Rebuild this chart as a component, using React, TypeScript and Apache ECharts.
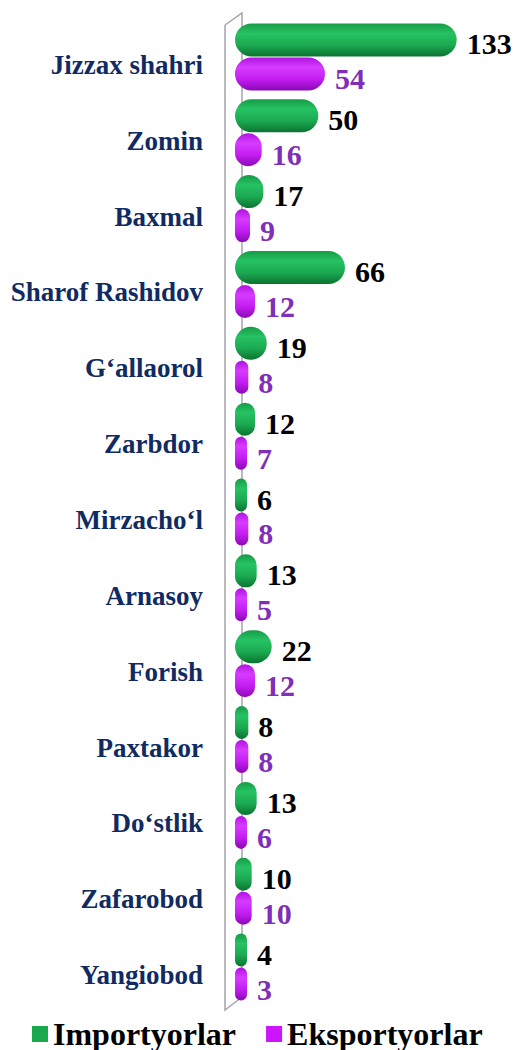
import React, { useEffect, useRef } from "react";
import * as echarts from "echarts";

const categories = [
  "Jizzax shahri",
  "Zomin",
  "Baxmal",
  "Sharof Rashidov",
  "G‘allaorol",
  "Zarbdor",
  "Mirzacho‘l",
  "Arnasoy",
  "Forish",
  "Paxtakor",
  "Do‘stlik",
  "Zafarobod",
  "Yangiobod",
];
const importValues = [133, 50, 17, 66, 19, 12, 6, 13, 22, 8, 13, 10, 4];
const exportValues = [54, 16, 9, 12, 8, 7, 8, 5, 12, 8, 6, 10, 3];
const seriesNames = ["Importyorlar", "Eksportyorlar"];

const FONT = "'Liberation Serif', 'Times New Roman', serif";

export default function App() {
  const ref = useRef<HTMLDivElement>(null);
  useEffect(() => {
    document.body.style.margin = "0";
    const chart = echarts.init(ref.current!, null, { renderer: "svg" });
    const green = new echarts.graphic.LinearGradient(0, 0, 0, 1, [
      { offset: 0, color: "#159c46" },
      { offset: 0.3, color: "#26c263" },
      { offset: 0.65, color: "#1caa52" },
      { offset: 1, color: "#0b7330" },
    ]);
    const purple = new echarts.graphic.LinearGradient(0, 0, 0, 1, [
      { offset: 0, color: "#b012e0" },
      { offset: 0.3, color: "#d63cff" },
      { offset: 0.65, color: "#c41ef2" },
      { offset: 1, color: "#8a08b5" },
    ]);
    chart.setOption({
      animation: false,
      grid: { left: 235, right: 30, top: 19, bottom: 45, containLabel: false },
      legend: {
        left: 32,
        top: 1018,
        padding: 0,
        itemWidth: 16,
        itemHeight: 16,
        itemGap: 30,
        icon: "rect",
        textStyle: {
          fontFamily: FONT,
          fontWeight: "bold",
          fontSize: 32,
          lineHeight: 28,
          color: "#000",
        },
        data: [
          { name: seriesNames[0], itemStyle: { color: "#1aa84e" } },
          { name: seriesNames[1], itemStyle: { color: "#cc14ff" } },
        ],
      },
      xAxis: {
        type: "value",
        min: 0,
        max: 150,
        show: false,
      },
      yAxis: {
        type: "category",
        data: categories,
        inverse: true,
        axisLine: { show: false },
        axisTick: { show: false },
        splitLine: { show: false },
        axisLabel: {
          margin: 32,
          fontFamily: FONT,
          fontWeight: "bold",
          fontSize: 27,
          color: "#112b62",
          verticalAlign: "top",
          lineHeight: 16,
        },
      },
      series: [
        {
          name: seriesNames[0],
          type: "bar",
          data: importValues,
          barWidth: 33,
          barGap: "3%",
          barMinHeight: 12,
          z: 3,
          itemStyle: { color: green, borderRadius: 17 },
          label: {
            show: true,
            position: "right",
            distance: 10,
            offset: [0, 4],
            fontFamily: FONT,
            fontWeight: "bold",
            fontSize: 30,
            color: "#000",
          },
        },
        {
          name: seriesNames[1],
          type: "bar",
          data: exportValues,
          barWidth: 33,
          barMinHeight: 12,
          z: 3,
          itemStyle: { color: purple, borderRadius: 17 },
          label: {
            show: true,
            position: "right",
            distance: 10,
            offset: [0, 5],
            fontFamily: FONT,
            fontWeight: "bold",
            fontSize: 30,
            color: "#7f2fb8",
          },
        },
      ],
    });

    const gx = chart.convertToPixel({ xAxisIndex: 0 }, 0) as number;
    const top = 19;
    const bottom = 1050 - 45;
    const wallStyle = { stroke: "#a4a4ac", lineWidth: 1.5, fill: "none" };
    chart.setOption({
      graphic: [
        {
          type: "polyline",
          z: 0,
          silent: true,
          shape: {
            points: [
              [gx - 10, top + 6],
              [gx + 7, top - 6],
              [gx + 7, bottom - 8],
            ],
          },
          style: wallStyle,
        },
        {
          type: "polyline",
          z: 1,
          silent: true,
          shape: {
            points: [
              [gx - 10, top + 6],
              [gx - 10, bottom + 5],
              [gx + 7, bottom - 8],
            ],
          },
          style: wallStyle,
        },
      ],
    });

    return () => chart.dispose();
  }, []);
  return <div ref={ref} style={{ width: 515, height: 1050 }} />;
}
